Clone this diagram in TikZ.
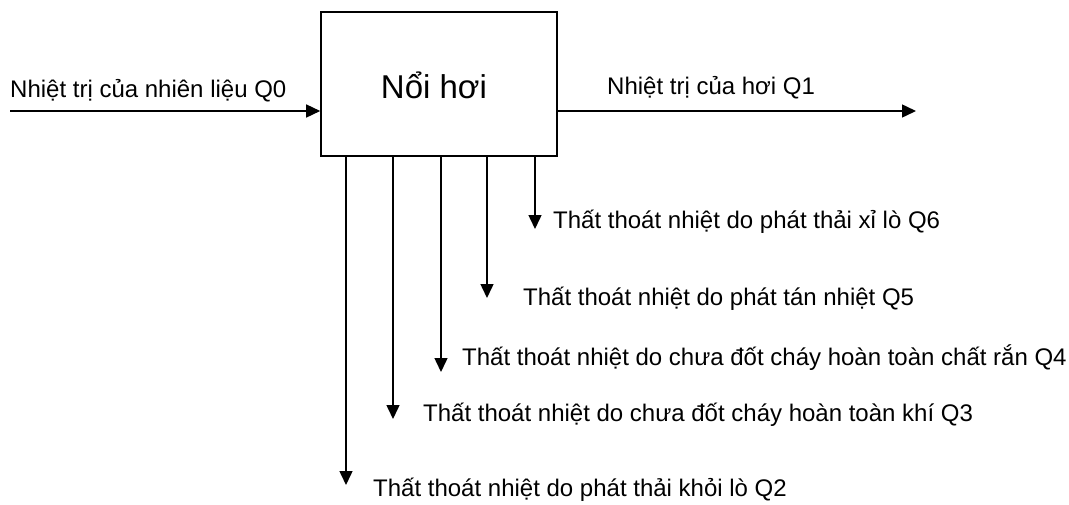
\documentclass[tikz,border=0pt]{standalone}
\usepackage{fontspec}
\setmainfont{Liberation Sans}
\usetikzlibrary{arrows.meta}
\begin{document}
\begin{tikzpicture}[x=1pt,y=-1pt,
  arr/.style={line width=1.5pt,-{Triangle[length=14pt,width=13pt]}},
  lbl/.style={anchor=west,inner sep=0pt,font=\fontsize{24}{28}\selectfont},
  boxst/.style={draw,line width=1.6pt,minimum width=236pt,minimum height=144pt,inner sep=0pt},
  titlest/.style={inner sep=0pt,font=\fontsize{33}{38}\selectfont}]
\useasboundingbox[fill=white] (0,0) rectangle (1069,504);
\node[boxst] (box) at (439,84) {};
\node[titlest] (title) at (434,85) {Nổi hơi};
% input
\coordinate (inp) at (10,111);
\draw[arr] (inp) -- (box.west |- inp);
\node[lbl] (l0) at (10,91) {Nhiệt trị của nhiên liệu Q0};
% output
\coordinate (outp) at (916,111);
\draw[arr] (box.east |- outp) -- (outp);
\node[lbl] (l1) at (607,88) {Nhiệt trị của hơi Q1};
% losses
\coordinate (e6) at (535,229);
\coordinate (e5) at (487,298);
\coordinate (e4) at (441,372);
\coordinate (e3) at (393,419);
\coordinate (e2) at (346,485);
\draw[arr] (box.south -| e6) -- (e6);
\draw[arr] (box.south -| e5) -- (e5);
\draw[arr] (box.south -| e4) -- (e4);
\draw[arr] (box.south -| e3) -- (e3);
\draw[arr] (box.south -| e2) -- (e2);
\node[lbl] (l6) at (553,222) {Thất thoát nhiệt do phát thải xỉ lò Q6};
\node[lbl] (l5) at (523,299) {Thất thoát nhiệt do phát tán nhiệt Q5};
\node[lbl] (l4) at (462,358) {Thất thoát nhiệt do chưa đốt cháy hoàn toàn chất rắn Q4};
\node[lbl] (l3) at (423,415) {Thất thoát nhiệt do chưa đốt cháy hoàn toàn khí Q3};
\node[lbl] (l2) at (373,490) {Thất thoát nhiệt do phát thải khỏi lò Q2};
\end{tikzpicture}
\end{document}
